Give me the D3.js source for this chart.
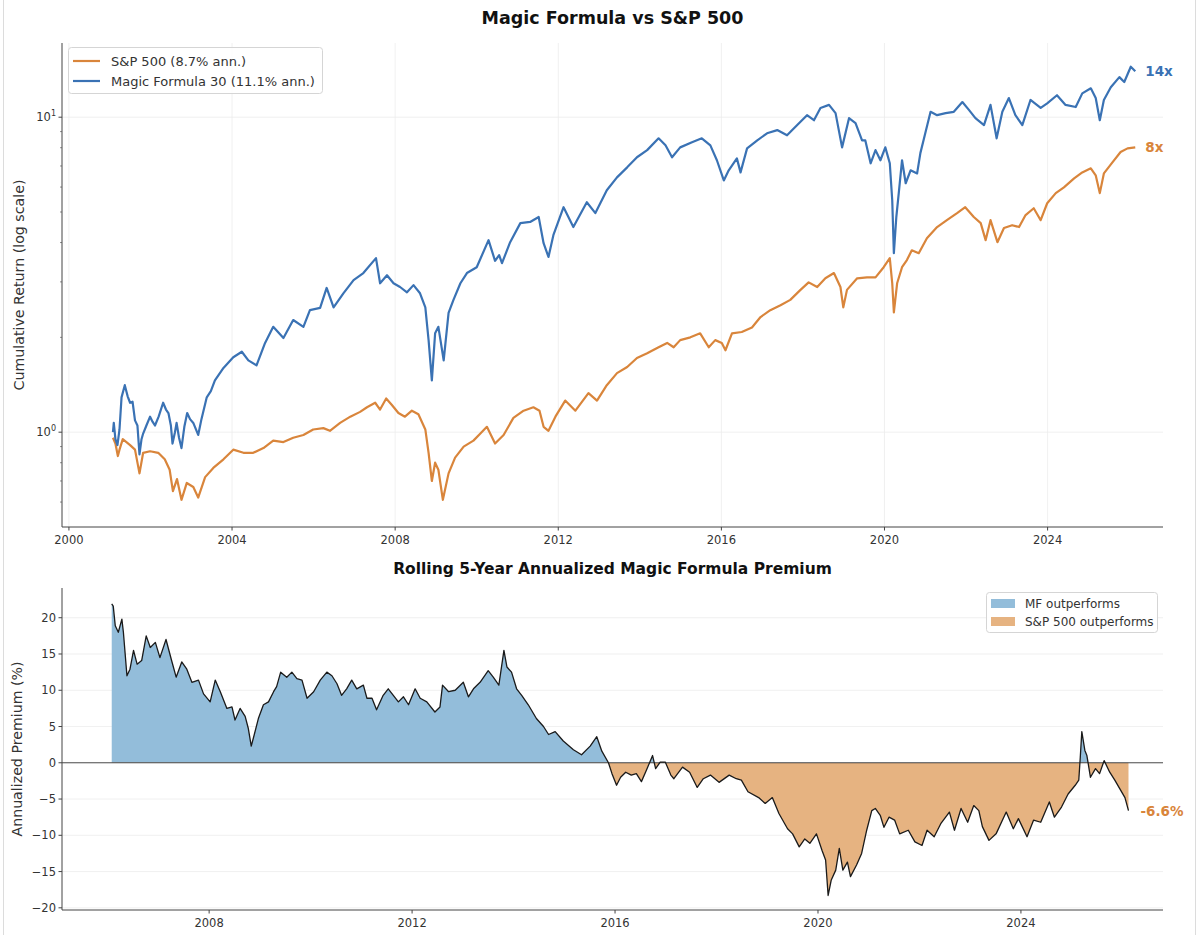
<!DOCTYPE html>
<html>
<head>
<meta charset="utf-8">
<script src="https://cdn.jsdelivr.net/npm/d3@7"></script>
<style>
  html, body { margin: 0; padding: 0; background: #fff; }
  svg { display: block; font-family: "DejaVu Sans", sans-serif; }
  .tick-label { font-size: 11.5px; fill: #333; }
  .axis-title { font-size: 14.2px; fill: #333; }
  .chart-title { font-weight: bold; fill: #111; }
</style>
</head>
<body>
<svg id="chart" width="1200" height="935"></svg>
<script>
// Cumulative return, Magic Formula 30
const mfYears = [2001.08, 2001.10, 2001.14, 2001.19, 2001.24, 2001.29, 2001.37, 2001.44, 2001.50, 2001.56,
  2001.62, 2001.68, 2001.73, 2001.78, 2001.82, 2001.90, 2001.99, 2002.05, 2002.11, 2002.20,
  2002.31, 2002.38, 2002.44, 2002.50, 2002.54, 2002.60, 2002.64, 2002.70, 2002.76, 2002.83,
  2002.90, 2002.97, 2003.05, 2003.17, 2003.25, 2003.38, 2003.48, 2003.58, 2003.79, 2004.03,
  2004.24, 2004.40, 2004.60, 2004.81, 2005.01, 2005.26, 2005.50, 2005.75, 2005.91, 2006.16,
  2006.32, 2006.49, 2006.73, 2006.98, 2007.22, 2007.53, 2007.63, 2007.80, 2007.96, 2008.12,
  2008.29, 2008.45, 2008.61, 2008.74, 2008.82, 2008.90, 2008.98, 2009.06, 2009.19, 2009.31,
  2009.43, 2009.60, 2009.76, 2010.00, 2010.29, 2010.45, 2010.55, 2010.62, 2010.82, 2011.07,
  2011.31, 2011.52, 2011.64, 2011.76, 2011.88, 2012.13, 2012.37, 2012.70, 2012.91, 2013.19,
  2013.44, 2013.69, 2013.93, 2014.18, 2014.46, 2014.63, 2014.79, 2014.99, 2015.28, 2015.52,
  2015.73, 2015.89, 2016.06, 2016.18, 2016.38, 2016.47, 2016.63, 2016.88, 2017.12, 2017.37,
  2017.61, 2017.86, 2018.10, 2018.27, 2018.43, 2018.64, 2018.80, 2018.96, 2019.13, 2019.29,
  2019.45, 2019.53, 2019.66, 2019.78, 2019.90, 2020.02, 2020.13, 2020.19, 2020.23, 2020.29,
  2020.35, 2020.43, 2020.52, 2020.64, 2020.80, 2020.88, 2021.00, 2021.13, 2021.29, 2021.50,
  2021.70, 2021.91, 2022.07, 2022.23, 2022.44, 2022.60, 2022.75, 2022.89, 2023.05, 2023.21,
  2023.38, 2023.58, 2023.83, 2023.99, 2024.23, 2024.44, 2024.69, 2024.85, 2025.06, 2025.18,
  2025.28, 2025.38, 2025.55, 2025.76, 2025.88, 2026.04, 2026.15];
const mfValues = [1.00, 1.07, 0.95, 0.91, 1.02, 1.29, 1.41, 1.30, 1.24, 1.25,
  1.09, 1.05, 0.85, 0.95, 0.99, 1.05, 1.12, 1.08, 1.05, 1.12,
  1.24, 1.18, 1.15, 1.05, 0.92, 1.00, 1.07, 0.96, 0.89, 1.04,
  1.15, 1.10, 1.07, 0.98, 1.10, 1.29, 1.35, 1.46, 1.60, 1.73,
  1.80, 1.69, 1.63, 1.92, 2.16, 1.99, 2.27, 2.16, 2.44, 2.48,
  2.87, 2.49, 2.76, 3.04, 3.20, 3.57, 2.97, 3.15, 2.97, 2.89,
  2.78, 2.93, 2.76, 2.49, 1.96, 1.46, 2.06, 2.16, 1.69, 2.39,
  2.63, 2.97, 3.20, 3.34, 4.07, 3.50, 3.65, 3.44, 4.01, 4.61,
  4.65, 4.82, 3.98, 3.60, 4.22, 5.18, 4.48, 5.37, 4.96, 5.86,
  6.44, 6.93, 7.46, 7.86, 8.57, 8.14, 7.46, 8.02, 8.33, 8.57,
  8.14, 7.30, 6.30, 6.78, 7.40, 6.68, 7.96, 8.44, 8.89, 9.10,
  8.76, 9.44, 10.15, 9.78, 10.70, 10.94, 10.30, 8.02, 9.93, 9.58,
  8.44, 8.44, 7.14, 7.86, 7.30, 8.02, 7.14, 5.45, 3.70, 4.82,
  5.74, 7.30, 6.17, 6.78, 6.63, 7.69, 8.89, 10.40, 10.15, 10.30,
  10.40, 11.17, 10.55, 9.93, 9.44, 10.94, 8.57, 10.40, 11.50, 10.15,
  9.44, 11.34, 10.70, 11.06, 11.74, 10.94, 10.77, 11.90, 12.35, 11.50,
  9.78, 11.34, 12.44, 13.40, 12.93, 14.46, 14.00];

// Cumulative return, S&P 500
const spYears = [2001.08, 2001.14, 2001.20, 2001.24, 2001.32, 2001.50, 2001.62, 2001.73, 2001.82, 2001.99,
  2002.19, 2002.35, 2002.47, 2002.55, 2002.65, 2002.76, 2002.89, 2003.05, 2003.17, 2003.34,
  2003.54, 2003.79, 2004.03, 2004.28, 2004.52, 2004.77, 2005.01, 2005.26, 2005.50, 2005.75,
  2005.99, 2006.24, 2006.40, 2006.65, 2006.90, 2007.14, 2007.31, 2007.51, 2007.63, 2007.78,
  2007.92, 2008.08, 2008.24, 2008.41, 2008.57, 2008.74, 2008.82, 2008.90, 2008.98, 2009.06,
  2009.17, 2009.31, 2009.47, 2009.68, 2009.92, 2010.09, 2010.25, 2010.45, 2010.66, 2010.90,
  2011.15, 2011.39, 2011.54, 2011.64, 2011.76, 2011.93, 2012.17, 2012.42, 2012.74, 2012.95,
  2013.19, 2013.44, 2013.69, 2013.93, 2014.18, 2014.46, 2014.67, 2014.83, 2014.99, 2015.24,
  2015.48, 2015.69, 2015.85, 2016.01, 2016.10, 2016.26, 2016.50, 2016.75, 2016.96, 2017.20,
  2017.45, 2017.69, 2017.94, 2018.14, 2018.35, 2018.55, 2018.76, 2018.92, 2018.99, 2019.08,
  2019.33, 2019.57, 2019.78, 2019.98, 2020.13, 2020.19, 2020.23, 2020.31, 2020.43, 2020.55,
  2020.67, 2020.84, 2021.04, 2021.29, 2021.53, 2021.78, 2021.98, 2022.19, 2022.36, 2022.48,
  2022.60, 2022.77, 2022.93, 2023.13, 2023.30, 2023.46, 2023.66, 2023.83, 2023.99, 2024.20,
  2024.40, 2024.65, 2024.85, 2025.06, 2025.18, 2025.28, 2025.38, 2025.59, 2025.79, 2025.96,
  2026.15];
const spValues = [0.96, 0.92, 0.84, 0.88, 0.95, 0.91, 0.88, 0.74, 0.86, 0.87,
  0.86, 0.82, 0.76, 0.65, 0.71, 0.61, 0.69, 0.67, 0.62, 0.72,
  0.77, 0.82, 0.88, 0.86, 0.86, 0.89, 0.94, 0.93, 0.96, 0.98,
  1.02, 1.03, 1.01, 1.07, 1.12, 1.16, 1.20, 1.24, 1.18, 1.28,
  1.22, 1.15, 1.12, 1.17, 1.14, 1.02, 0.86, 0.70, 0.80, 0.76,
  0.61, 0.74, 0.83, 0.90, 0.94, 0.99, 1.04, 0.92, 0.98, 1.11,
  1.17, 1.20, 1.17, 1.04, 1.01, 1.12, 1.26, 1.17, 1.33, 1.26,
  1.41, 1.54, 1.61, 1.72, 1.78, 1.86, 1.92, 1.86, 1.96, 2.00,
  2.06, 1.86, 1.96, 1.92, 1.82, 2.06, 2.08, 2.15, 2.32, 2.44,
  2.53, 2.63, 2.83, 2.99, 2.89, 3.08, 3.20, 2.89, 2.49, 2.83,
  3.08, 3.10, 3.10, 3.34, 3.57, 2.97, 2.40, 2.97, 3.34, 3.52,
  3.78, 3.70, 4.13, 4.48, 4.71, 4.96, 5.18, 4.82, 4.61, 4.07,
  4.71, 4.01, 4.45, 4.54, 4.48, 4.89, 5.14, 4.71, 5.33, 5.74,
  5.99, 6.39, 6.68, 6.88, 6.54, 5.74, 6.63, 7.19, 7.75, 7.96,
  8.02];

// Rolling 5-year annualized premium (%)
const premYears = [2006.08, 2006.11, 2006.15, 2006.21, 2006.28, 2006.31, 2006.38, 2006.44, 2006.51, 2006.58,
  2006.67, 2006.76, 2006.84, 2006.94, 2007.03, 2007.15, 2007.26, 2007.35, 2007.46, 2007.56,
  2007.66, 2007.79, 2007.89, 2008.02, 2008.12, 2008.22, 2008.35, 2008.45, 2008.51, 2008.61,
  2008.71, 2008.77, 2008.83, 2008.89, 2008.97, 2009.07, 2009.17, 2009.27, 2009.33, 2009.41,
  2009.53, 2009.63, 2009.73, 2009.83, 2009.93, 2010.06, 2010.19, 2010.32, 2010.42, 2010.52,
  2010.61, 2010.71, 2010.81, 2010.91, 2011.04, 2011.11, 2011.21, 2011.30, 2011.43, 2011.53,
  2011.63, 2011.73, 2011.83, 2011.93, 2012.06, 2012.16, 2012.29, 2012.45, 2012.55, 2012.60,
  2012.72, 2012.85, 2013.01, 2013.11, 2013.21, 2013.34, 2013.50, 2013.60, 2013.71, 2013.81,
  2013.87, 2013.96, 2014.06, 2014.16, 2014.29, 2014.45, 2014.59, 2014.69, 2014.82, 2014.98,
  2015.18, 2015.34, 2015.51, 2015.64, 2015.74, 2015.87, 2015.94, 2016.03, 2016.11, 2016.21,
  2016.32, 2016.42, 2016.52, 2016.62, 2016.74, 2016.80, 2016.89, 2016.99, 2017.10, 2017.16,
  2017.33, 2017.47, 2017.62, 2017.74, 2017.88, 2018.05, 2018.25, 2018.39, 2018.49, 2018.62,
  2018.83, 2018.96, 2019.10, 2019.23, 2019.40, 2019.50, 2019.63, 2019.74, 2019.84, 2019.97,
  2020.08, 2020.15, 2020.20, 2020.26, 2020.35, 2020.42, 2020.49, 2020.58, 2020.64, 2020.76,
  2020.86, 2020.96, 2021.06, 2021.13, 2021.23, 2021.30, 2021.40, 2021.51, 2021.61, 2021.78,
  2021.91, 2022.05, 2022.15, 2022.29, 2022.42, 2022.59, 2022.69, 2022.82, 2022.95, 2023.07,
  2023.17, 2023.24, 2023.37, 2023.51, 2023.71, 2023.85, 2023.95, 2024.12, 2024.25, 2024.39,
  2024.56, 2024.66, 2024.80, 2024.93, 2025.07, 2025.14, 2025.17, 2025.20, 2025.26, 2025.30,
  2025.37, 2025.47, 2025.55, 2025.64, 2025.75, 2025.85, 2025.95, 2026.05, 2026.12];
const premValues = [21.9, 21.6, 18.9, 18.0, 19.8, 18.0, 12.0, 12.9, 15.5, 13.6,
  14.1, 17.5, 15.9, 16.6, 14.5, 17.0, 14.1, 11.8, 13.9, 12.9,
  11.1, 11.4, 9.5, 8.4, 11.4, 9.8, 7.5, 7.7, 5.9, 7.5,
  6.4, 4.8, 2.3, 3.9, 6.1, 8.0, 8.4, 9.8, 10.5, 12.5,
  11.8, 12.5, 11.6, 11.4, 8.9, 9.8, 11.4, 12.5, 12.0, 10.9,
  9.3, 10.2, 11.4, 10.2, 10.7, 8.9, 8.9, 7.3, 9.3, 10.2,
  9.3, 8.4, 9.1, 8.0, 10.2, 8.9, 8.4, 7.0, 7.7, 10.7,
  9.8, 10.0, 11.1, 9.1, 10.2, 11.1, 12.7, 11.8, 10.7, 15.5,
  13.2, 12.5, 10.2, 9.3, 8.0, 6.1, 5.0, 3.9, 4.3, 3.0,
  1.8, 1.1, 2.3, 3.6, 1.6, 0.0, -1.5, -3.1, -2.0, -1.3,
  -1.7, -1.5, -2.6, -1.0, 1.0, -0.8, 0.1, 0.1, -1.7, -2.2,
  -0.6, -1.3, -3.4, -2.2, -1.7, -2.7, -1.7, -2.2, -2.4, -4.0,
  -4.8, -5.6, -4.8, -7.0, -9.1, -9.8, -11.6, -10.5, -11.1, -9.8,
  -12.1, -13.4, -18.3, -16.2, -14.8, -11.8, -14.8, -13.7, -15.7, -14.1,
  -12.5, -9.3, -6.6, -6.3, -7.3, -8.9, -7.5, -7.9, -9.8, -9.3,
  -10.9, -11.4, -9.3, -10.2, -8.4, -6.8, -9.3, -6.3, -8.2, -5.9,
  -6.6, -8.8, -10.7, -9.8, -6.8, -9.1, -7.7, -10.2, -7.9, -8.2,
  -5.4, -7.5, -6.1, -4.3, -3.1, -2.4, 0.8, 4.3, 1.7, 1.0,
  -2.0, -0.8, -1.5, 0.3, -1.3, -2.4, -3.6, -4.8, -6.6];

const topXTicks = [2000, 2004, 2008, 2012, 2016, 2020, 2024];
const topYMajor = [1, 10];
const topYMinor = [0.6, 0.7, 0.8, 0.9, 2, 3, 4, 5, 6, 7, 8, 9];
const botXTicks = [2008, 2012, 2016, 2020, 2024];
const botYTicks = [-20, -15, -10, -5, 0, 5, 10, 15, 20];

const spLabel = "S&P 500 (8.7% ann.)";
const mfLabel = "Magic Formula 30 (11.1% ann.)";

const C_SP = "#d9853b", C_MF = "#3a72b4";
const C_MF_FILL = "#93bdda", C_SP_FILL = "#e6b381";
const GRID = "#ececec", SPINE = "#444";

const svg = d3.select("#chart");

// screenshot frame
svg.append("rect").attr("x", 3.5).attr("y", -2).attr("width", 1192).attr("height", 940)
  .attr("fill", "none").attr("stroke", "#dcdcdc");

const mf = mfYears.map((y, i) => ({ t: y, v: mfValues[i] }));
const sp = spYears.map((y, i) => ({ t: y, v: spValues[i] }));
const prem = premYears.map((y, i) => ({ t: y, v: premValues[i] }));

// ---------- top panel ----------
const topBox = { left: 62, right: 1163, top: 43, bottom: 527 };
const x1 = d3.scaleLinear().domain([1999.83, 2026.83]).range([topBox.left, topBox.right]);
const y1 = d3.scaleLog().domain([0.5, 17.2]).range([topBox.bottom, topBox.top]);

const g1 = svg.append("g");

g1.selectAll(".vgrid").data(topXTicks).join("line")
  .attr("x1", d => x1(d)).attr("x2", d => x1(d))
  .attr("y1", topBox.top).attr("y2", topBox.bottom)
  .attr("stroke", GRID).attr("stroke-width", 0.8);
g1.selectAll(".hgrid").data(topYMajor).join("line")
  .attr("x1", topBox.left).attr("x2", topBox.right)
  .attr("y1", d => y1(d)).attr("y2", d => y1(d))
  .attr("stroke", GRID).attr("stroke-width", 0.8);

const line1 = d3.line().x(d => x1(d.t)).y(d => y1(d.v));
g1.append("path").datum(sp).attr("d", line1)
  .attr("fill", "none").attr("stroke", C_SP).attr("stroke-width", 2.2).attr("stroke-linejoin", "round");
g1.append("path").datum(mf).attr("d", line1)
  .attr("fill", "none").attr("stroke", C_MF).attr("stroke-width", 2.2).attr("stroke-linejoin", "round");

// spines
g1.append("line").attr("x1", topBox.left).attr("x2", topBox.left).attr("y1", topBox.top).attr("y2", topBox.bottom)
  .attr("stroke", SPINE).attr("stroke-width", 1);
g1.append("line").attr("x1", topBox.left).attr("x2", topBox.right).attr("y1", topBox.bottom).attr("y2", topBox.bottom)
  .attr("stroke", SPINE).attr("stroke-width", 1);

// x ticks
g1.selectAll(".xt").data(topXTicks).join("line")
  .attr("x1", d => x1(d)).attr("x2", d => x1(d))
  .attr("y1", topBox.bottom).attr("y2", topBox.bottom + 3.5).attr("stroke", SPINE);
g1.selectAll(".xl").data(topXTicks).join("text").attr("class", "tick-label")
  .attr("x", d => x1(d)).attr("y", topBox.bottom + 17).attr("text-anchor", "middle")
  .text(d => d);

// y ticks (log)
g1.selectAll(".yt").data(topYMajor).join("line")
  .attr("x1", topBox.left - 3.5).attr("x2", topBox.left)
  .attr("y1", d => y1(d)).attr("y2", d => y1(d)).attr("stroke", SPINE);
g1.selectAll(".ym").data(topYMinor).join("line")
  .attr("x1", topBox.left - 2).attr("x2", topBox.left)
  .attr("y1", d => y1(d)).attr("y2", d => y1(d)).attr("stroke", SPINE).attr("stroke-width", 0.6);
const yl = g1.selectAll(".yl").data(topYMajor).join("text").attr("class", "tick-label")
  .attr("x", topBox.left - 6).attr("y", d => y1(d) + 4).attr("text-anchor", "end");
yl.append("tspan").text("10");
yl.append("tspan").attr("dy", -5).style("font-size", "8px").text(d => Math.round(Math.log10(d)));

g1.append("text").attr("class", "axis-title")
  .attr("transform", `translate(24,${(topBox.top + topBox.bottom) / 2}) rotate(-90)`)
  .attr("text-anchor", "middle").text("Cumulative Return (log scale)");

svg.append("text").attr("class", "chart-title").style("font-size", "17.5px")
  .attr("x", (topBox.left + topBox.right) / 2).attr("y", 24).attr("text-anchor", "middle")
  .text("Magic Formula vs S&P 500");

// end labels
const mfLast = mf[mf.length - 1], spLast = sp[sp.length - 1];
g1.append("text").attr("x", x1(mfLast.t) + 10).attr("y", y1(mfLast.v) + 5)
  .attr("fill", C_MF).style("font-size", "13.5px").style("font-weight", "bold")
  .text(Math.round(mfLast.v) + "x");
g1.append("text").attr("x", x1(spLast.t) + 10).attr("y", y1(spLast.v) + 5)
  .attr("fill", C_SP).style("font-size", "13.5px").style("font-weight", "bold")
  .text(Math.round(spLast.v) + "x");

// legend
const lg1 = g1.append("g");
lg1.append("rect").attr("x", 68.5).attr("y", 47.5).attr("width", 254).attr("height", 46).attr("rx", 3)
  .attr("fill", "#fff").attr("fill-opacity", 0.85).attr("stroke", "#d5d5d5");
[[spLabel, C_SP], [mfLabel, C_MF]].forEach(([label, color], i) => {
  const yy = 61 + i * 20;
  lg1.append("line").attr("x1", 73).attr("x2", 100).attr("y1", yy).attr("y2", yy)
    .attr("stroke", color).attr("stroke-width", 2.2);
  lg1.append("text").attr("x", 111).attr("y", yy + 4.5)
    .style("font-size", "13px").attr("fill", "#333").text(label);
});

// ---------- bottom panel ----------
const botBox = { left: 62, right: 1163, top: 588, bottom: 910 };
const x2 = d3.scaleLinear().domain([2005.1, 2026.8]).range([botBox.left, botBox.right]);
const y2 = d3.scaleLinear().domain([-20.3, 24.1]).range([botBox.bottom, botBox.top]);

const g2 = svg.append("g");

g2.selectAll(".hgrid").data(botYTicks.filter(d => d !== 0)).join("line")
  .attr("x1", botBox.left).attr("x2", botBox.right)
  .attr("y1", d => y2(d)).attr("y2", d => y2(d))
  .attr("stroke", GRID).attr("stroke-width", 0.8);

const defs = svg.append("defs");
defs.append("clipPath").attr("id", "clip-pos").append("rect")
  .attr("x", botBox.left).attr("y", botBox.top).attr("width", botBox.right - botBox.left).attr("height", y2(0) - botBox.top);
defs.append("clipPath").attr("id", "clip-neg").append("rect")
  .attr("x", botBox.left).attr("y", y2(0)).attr("width", botBox.right - botBox.left).attr("height", botBox.bottom - y2(0));

const area2 = d3.area().x(d => x2(d.t)).y0(y2(0)).y1(d => y2(d.v));
g2.append("path").datum(prem).attr("d", area2).attr("fill", C_MF_FILL).attr("clip-path", "url(#clip-pos)");
g2.append("path").datum(prem).attr("d", area2).attr("fill", C_SP_FILL).attr("clip-path", "url(#clip-neg)");

g2.append("line").attr("x1", botBox.left).attr("x2", botBox.right).attr("y1", y2(0)).attr("y2", y2(0))
  .attr("stroke", "#333").attr("stroke-width", 0.9);

const line2 = d3.line().x(d => x2(d.t)).y(d => y2(d.v));
g2.append("path").datum(prem).attr("d", line2)
  .attr("fill", "none").attr("stroke", "#1a1a1a").attr("stroke-width", 1.3).attr("stroke-linejoin", "round");

g2.append("line").attr("x1", botBox.left).attr("x2", botBox.left).attr("y1", botBox.top).attr("y2", botBox.bottom)
  .attr("stroke", SPINE).attr("stroke-width", 1);
g2.append("line").attr("x1", botBox.left).attr("x2", botBox.right).attr("y1", botBox.bottom).attr("y2", botBox.bottom)
  .attr("stroke", SPINE).attr("stroke-width", 1);

g2.selectAll(".xt").data(botXTicks).join("line")
  .attr("x1", d => x2(d)).attr("x2", d => x2(d))
  .attr("y1", botBox.bottom).attr("y2", botBox.bottom + 3.5).attr("stroke", SPINE);
g2.selectAll(".xl").data(botXTicks).join("text").attr("class", "tick-label")
  .attr("x", d => x2(d)).attr("y", botBox.bottom + 17).attr("text-anchor", "middle").text(d => d);

g2.selectAll(".yt").data(botYTicks).join("line")
  .attr("x1", botBox.left - 3.5).attr("x2", botBox.left)
  .attr("y1", d => y2(d)).attr("y2", d => y2(d)).attr("stroke", SPINE);
g2.selectAll(".yl").data(botYTicks).join("text").attr("class", "tick-label")
  .attr("x", botBox.left - 6).attr("y", d => y2(d) + 4).attr("text-anchor", "end")
  .text(d => d < 0 ? "\u2212" + Math.abs(d) : d);

g2.append("text").attr("class", "axis-title")
  .attr("transform", `translate(22,${(botBox.top + botBox.bottom) / 2}) rotate(-90)`)
  .attr("text-anchor", "middle").text("Annualized Premium (%)");

svg.append("text").attr("class", "chart-title").style("font-size", "15.5px")
  .attr("x", (botBox.left + botBox.right) / 2).attr("y", 574).attr("text-anchor", "middle")
  .text("Rolling 5-Year Annualized Magic Formula Premium");

const pLast = prem[prem.length - 1];
g2.append("text").attr("x", x2(pLast.t) + 12).attr("y", y2(pLast.v) + 5)
  .attr("fill", C_SP).style("font-size", "13.5px").style("font-weight", "bold")
  .text(pLast.v.toFixed(1) + "%");

const lg2 = g2.append("g");
lg2.append("rect").attr("x", 986.5).attr("y", 592.5).attr("width", 171).attr("height", 40).attr("rx", 3)
  .attr("fill", "#fff").attr("fill-opacity", 0.85).attr("stroke", "#d5d5d5");
[["MF outperforms", C_MF_FILL], ["S&P 500 outperforms", C_SP_FILL]].forEach(([label, color], i) => {
  const yy = 603.5 + i * 18;
  lg2.append("rect").attr("x", 991).attr("y", yy - 4.5).attr("width", 24).attr("height", 9).attr("fill", color);
  lg2.append("text").attr("x", 1025).attr("y", yy + 4.2)
    .style("font-size", "12px").attr("fill", "#333").text(label);
});
</script>
</body>
</html>
